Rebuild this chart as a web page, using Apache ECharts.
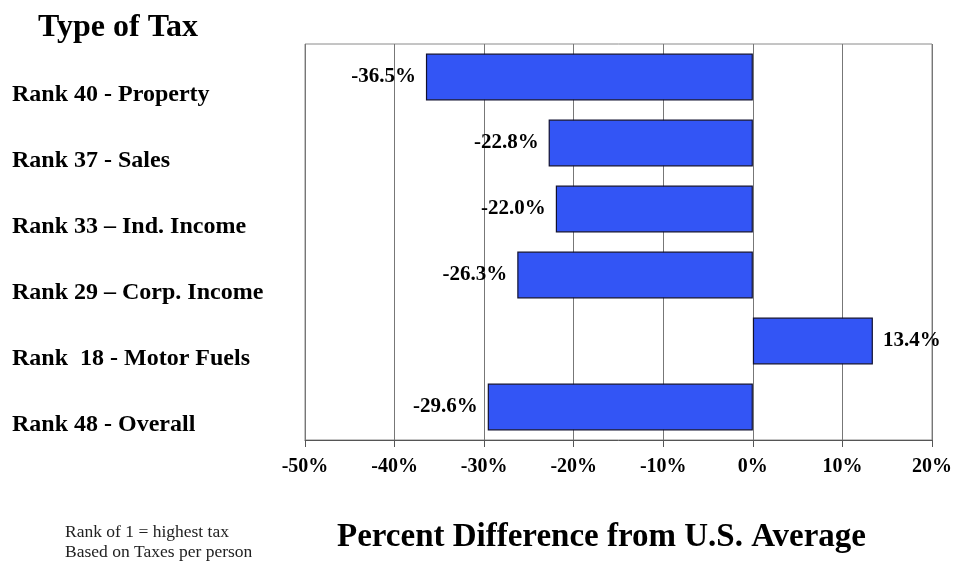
<!DOCTYPE html>
<html>
<head>
<meta charset="utf-8">
<script src="https://cdn.jsdelivr.net/npm/echarts@6/dist/echarts.min.js"></script>
<style>
html,body{margin:0;padding:0;background:#fff;}
#main{width:956px;height:568px;}
</style>
</head>
<body>
<div id="main"></div>
<script>
var categories = [
  'Rank 40 - Property',
  'Rank 37 - Sales',
  'Rank 33 \u2013 Ind. Income',
  'Rank 29 \u2013 Corp. Income',
  'Rank  18 - Motor Fuels',
  'Rank 48 - Overall'
];
var values = [-36.5, -22.8, -22.0, -26.3, 13.4, -29.6];
var tickMin = -50, tickMax = 20, tickStep = 10;
var axisTitle = 'Percent Difference from U.S. Average';
var chartTitle = 'Type of Tax';
var notes = ['Rank of 1 = highest tax', 'Based on Taxes per person'];

var serif = '"Liberation Serif","Times New Roman",serif';
var chart = echarts.init(document.getElementById('main'));

var seriesData = values.map(function (v) {
  return {
    value: v,
    label: { position: v < 0 ? 'left' : 'right' }
  };
});

chart.setOption({
  animation: false,
  backgroundColor: '#ffffff',
  title: {
    text: chartTitle,
    left: 33,
    top: 7,
    textStyle: { fontFamily: serif, fontWeight: 'bold', fontSize: 32, color: '#000' }
  },
  grid: {
    left: 305, right: 24, top: 44, bottom: 128,
    show: true, borderColor: '#8a8a8a', borderWidth: 1, containLabel: false
  },
  xAxis: {
    type: 'value',
    min: tickMin, max: tickMax, interval: tickStep,
    name: axisTitle,
    nameLocation: 'middle',
    nameGap: 81,
    nameTextStyle: { fontFamily: serif, fontWeight: 'bold', fontSize: 33, color: '#000', padding: [0, 34, 0, 0] },
    axisLine: { show: true, lineStyle: { color: '#555', width: 1 } },
    axisTick: { show: true, length: 7, lineStyle: { color: '#555' } },
    splitLine: { show: true, lineStyle: { color: '#777', width: 1 } },
    axisLabel: {
      margin: 17,
      fontFamily: serif, fontWeight: 'bold', fontSize: 20, color: '#000',
      formatter: function (v) { return v + '%'; }
    }
  },
  yAxis: {
    type: 'category',
    data: categories,
    inverse: true,
    axisLine: { show: false },
    axisTick: { show: false },
    splitLine: { show: false },
    axisLabel: {
      align: 'left',
      verticalAlign: 'top',
      lineHeight: 35,
      margin: 293,
      fontFamily: serif, fontWeight: 'bold', fontSize: 24, color: '#000'
    }
  },
  series: [{
    type: 'bar',
    data: seriesData,
    barWidth: '71%',
    itemStyle: { color: '#3355f5', borderColor: '#101030', borderWidth: 1.2 },
    label: {
      show: true,
      distance: 10,
      fontFamily: serif, fontWeight: 'bold', fontSize: 21, color: '#000',
      formatter: function (p) { return p.value.toFixed(1) + '%'; }
    }
  }],
  graphic: [{
    type: 'text',
    left: 65, top: 522,
    style: {
      text: notes.join('\n'),
      font: '17.5px ' + serif,
      lineHeight: 20,
      fill: '#222'
    }
  }]
});
</script>
</body>
</html>
